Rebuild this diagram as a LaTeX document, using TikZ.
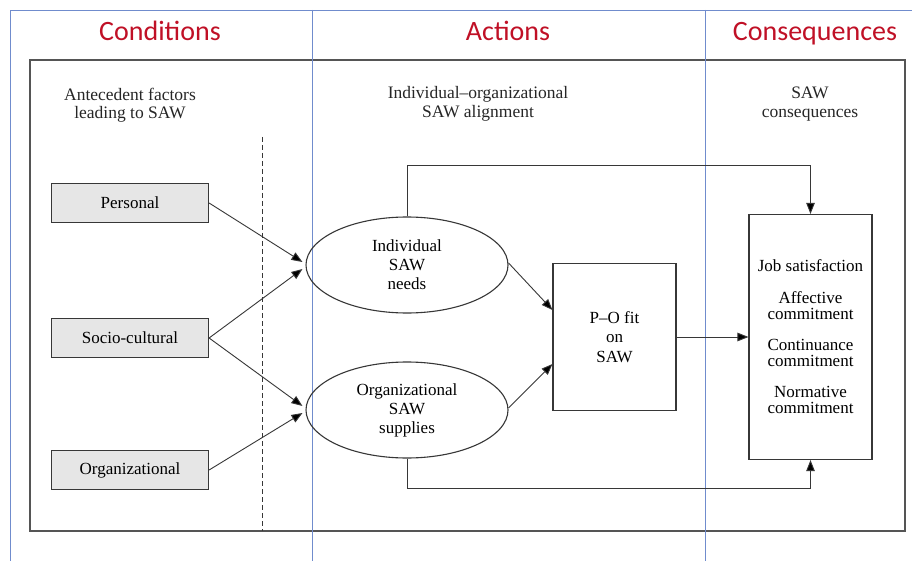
\documentclass[tikz,border=0pt]{standalone}
\usepackage{fontspec}
\setmainfont{Liberation Serif}
\newfontfamily\hdrfont{Carlito}
\usetikzlibrary{arrows.meta,shapes.geometric,calc}

\definecolor{hdrred}{RGB}{192,16,38}
\definecolor{gridblue}{RGB}{112,140,205}
\definecolor{inkgrey}{RGB}{55,55,55}
\definecolor{boxfill}{RGB}{230,230,230}

\tikzset{
  gridline/.style={draw=gridblue, line width=0.9pt},
  hdr/.style={font=\hdrfont\fontsize{28}{32}\selectfont, text=hdrred, anchor=base},
  caption/.style={font=\fontsize{17.5}{18.5}\selectfont, align=center, text=black!85},
  factor/.style={draw=inkgrey, line width=1.2pt, fill=boxfill, minimum width=157pt,
    minimum height=39pt, inner sep=0pt, font=\fontsize{17}{19}\selectfont},
  blob/.style={ellipse, draw=inkgrey, line width=1.1pt, minimum width=202pt,
    minimum height=96pt, inner sep=0pt, align=center,
    font=\fontsize{17}{19}\selectfont},
  plainbox/.style={draw=inkgrey, line width=1.1pt, inner sep=0pt, align=center},
  arr/.style={draw=inkgrey, line width=0.9pt,
    -{Triangle[length=11pt,width=8.5pt,fill=black]}}
}

\begin{document}
\begin{tikzpicture}[x=1pt,y=-1pt]
\useasboundingbox (0,0) rectangle (912,561);
\fill[white] (0,0) rectangle (912,561);

% outer frame of the content diagram
\draw[draw=inkgrey!85, line width=1.6pt] (30,60) rectangle (905,531);

% three-column grid
\draw[gridline] (10,561) -- (10,10) -- (912,10);
\draw[gridline] (312,10) -- (312,561);
\draw[gridline] (705,10) -- (705,561);

% column headings
\node[hdr] (hcond) at (160,41) {Conditions};
\node[hdr] (hact) at (508,41) {Actions};
\node[hdr] (hcons) at (815,41) {Consequences};

% section captions
\node[caption] (cap1) at (130,105) {Antecedent factors\\leading to SAW};
\node[caption] (cap2) at (478,104) {Individual–organizational\\SAW alignment};
\node[caption] (cap3) at (810,104) {SAW\\consequences};

% dashed separator
\draw[draw=inkgrey, line width=0.9pt, dashed, dash pattern=on 5pt off 3pt] (262,137) -- (262,531);

% antecedent factors
\node[factor] (pers) at (130,203) {Personal};
\node[factor] (soc) at (130,338) {Socio-cultural};
\node[factor] (org) at (130,470) {Organizational};

% alignment ellipses
\node[blob] (need) at (407,265) {Individual\\SAW\\needs};
\node[blob] (supp) at (407,410) {Organizational\\SAW\\supplies};

% fit box
\node[plainbox, minimum width=123pt, minimum height=147pt,
      font=\fontsize{17}{19.5}\selectfont] (fit) at (614.5,337) {P–O fit\\on\\SAW};

% consequences box
\node[plainbox, minimum width=123pt, minimum height=245pt,
      font=\fontsize{17}{16.5}\selectfont] (out) at (810.5,337)
  {Job satisfaction\\[15pt]Affective\\commitment\\[14pt]Continuance\\commitment\\[14pt]Normative\\commitment};

% arrow targets on the ellipses
\coordinate (n1) at ($(need.west)+(-3,-3)$);
\coordinate (n2) at ($(need.west)+(-3,4)$);
\coordinate (s1) at ($(supp.west)+(-3,-4)$);
\coordinate (s2) at ($(supp.west)+(-3,3)$);

\draw[arr] (pers.east) -- (n1);
\draw[arr] (soc.east) -- (n2);
\draw[arr] (soc.east) -- (s1);
\draw[arr] (org.east) -- (s2);

% ellipses into the fit box
\draw[arr] ($(need.east)+(0,-2)$) -- ($(fit.west)+(0,-27)$);
\draw[arr] ($(supp.east)+(0,-2)$) -- ($(fit.west)+(0,27)$);

% fit box into consequences
\draw[arr] (fit.east) -- (out.west);

% direct paths around the fit box
\draw[arr] (need.north) -- ++(0,-51) -| (out.north);
\draw[arr] (supp.south) -- ++(0,30) -| (out.south);

\end{tikzpicture}
\end{document}
